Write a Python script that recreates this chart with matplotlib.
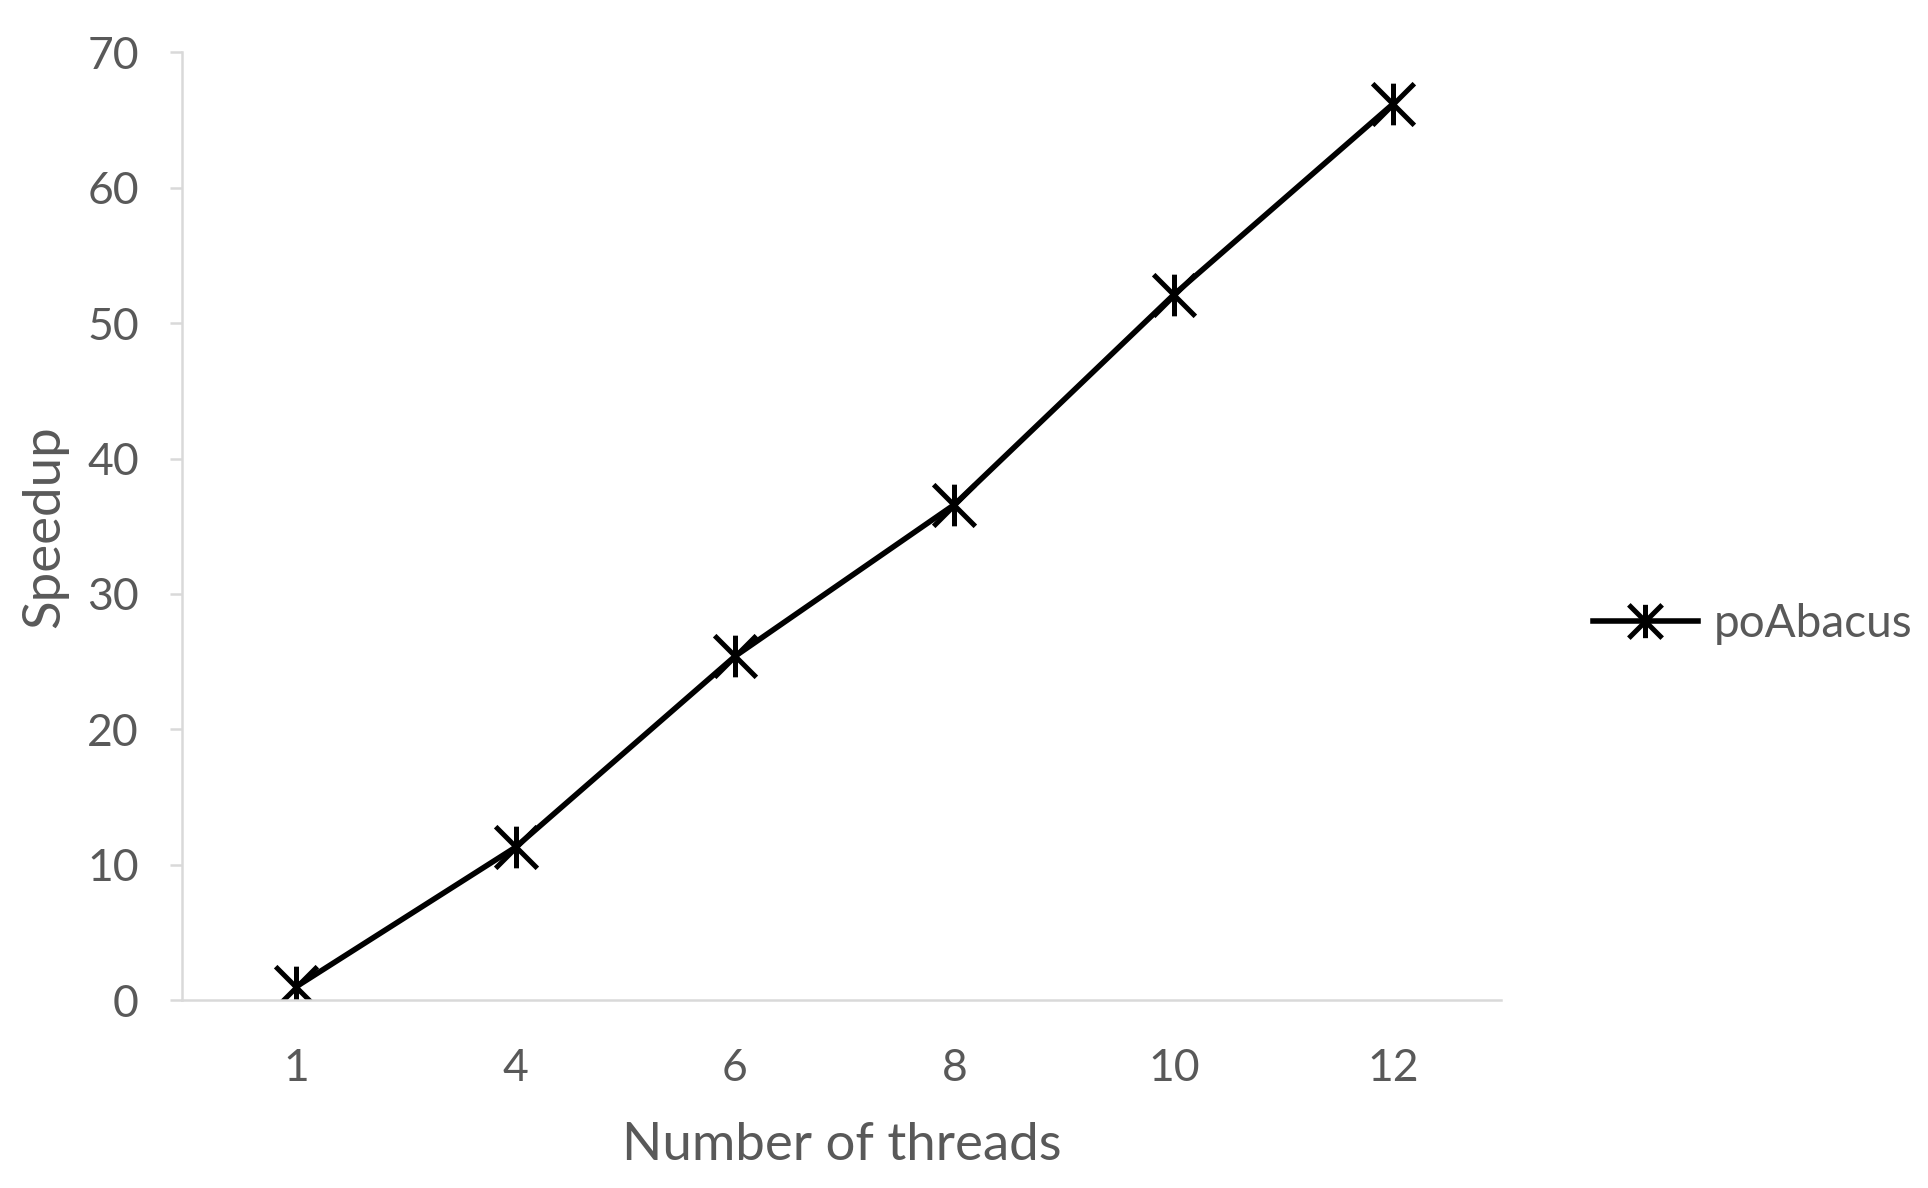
import matplotlib
matplotlib.use("Agg")
import matplotlib.pyplot as plt
from matplotlib.path import Path

# data
threads = ["1", "4", "6", "8", "10", "12"]
speedup = [1.0, 11.3, 25.4, 36.6, 52.1, 66.2]
y_ticks = [0, 10, 20, 30, 40, 50, 60, 70]

TEXT = "#595959"
AXIS = "#d9d9d9"

plt.rcParams["font.family"] = ["Lato", "DejaVu Sans"]

# excel style star marker: vertical bar + X
star = Path([(0, -1), (0, 1), (-1, -1), (1, 1), (-1, 1), (1, -1)],
            [Path.MOVETO, Path.LINETO, Path.MOVETO, Path.LINETO, Path.MOVETO, Path.LINETO])

fig = plt.figure(figsize=(19.28, 11.88), dpi=100)
ax = fig.add_axes([0.0944, 0.158, 0.684, 0.798])

x = list(range(len(threads)))
ax.plot(x, speedup, color="black", lw=4, marker=star, ms=30, mew=3.6,
        mec="black", label="poAbacus")

ax.set_xlim(-0.52, 5.49)
ax.set_ylim(0, 70)
ax.set_xticks(x)
ax.set_xticklabels(threads)
ax.set_yticks(y_ticks)

for s in ["top", "right"]:
    ax.spines[s].set_visible(False)
for s in ["left", "bottom"]:
    ax.spines[s].set_color(AXIS)
    ax.spines[s].set_linewidth(1.8)

ax.tick_params(axis="y", colors=AXIS, labelcolor=TEXT, labelsize=32,
               length=9, width=1.8, pad=22)
ax.tick_params(axis="x", colors=AXIS, labelcolor=TEXT, labelsize=32,
               length=0, pad=34)

ax.set_xlabel("Number of threads", fontsize=38, color=TEXT, labelpad=24)
ax.set_ylabel("Speedup", fontsize=38, color=TEXT, labelpad=14)

fig.legend(loc="center left", bbox_to_anchor=(0.826, 0.475), frameon=False,
           fontsize=33, labelcolor=TEXT, handlelength=2.3, handletextpad=0.35,
           borderpad=0, borderaxespad=0, markerscale=0.8)

fig.savefig("out.png", dpi=100, facecolor="white")
